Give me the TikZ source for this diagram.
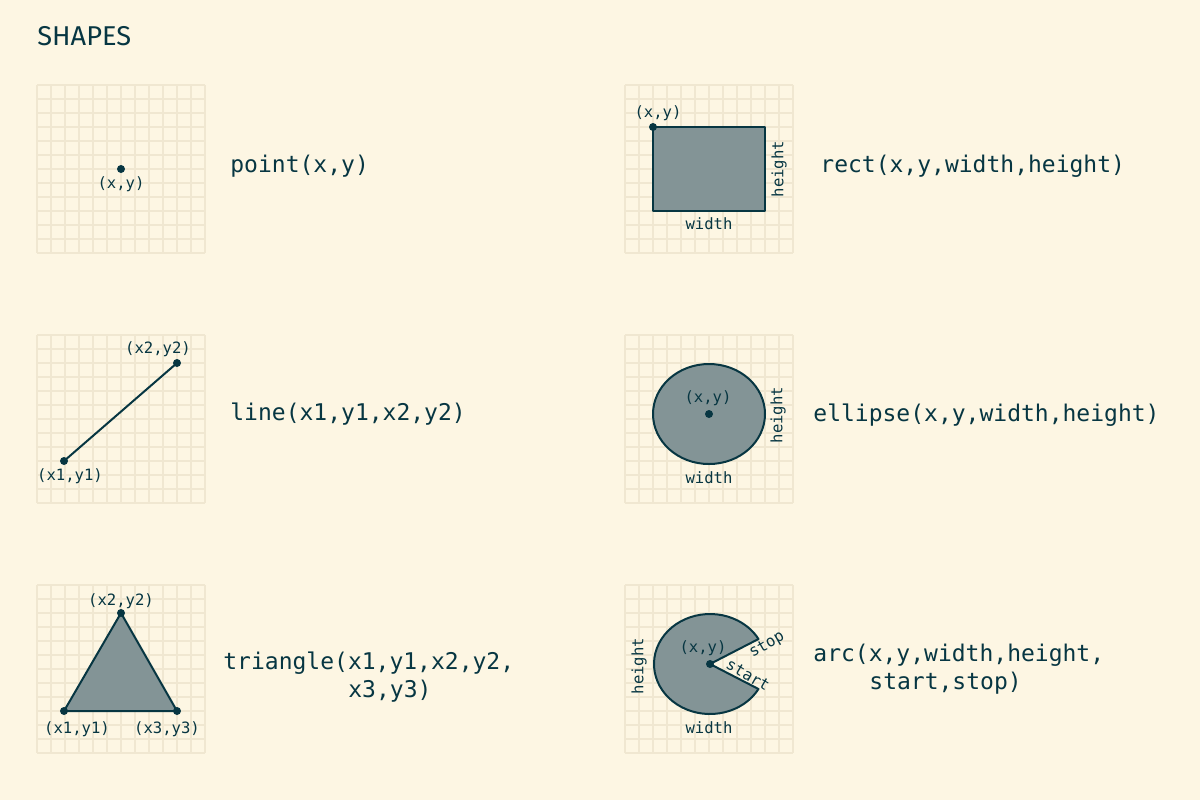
\documentclass[tikz,border=0pt]{standalone}
\usepackage{fontspec}
\setmonofont{DejaVu Sans Mono}
\newfontfamily\titlefont{Fira Sans}
\definecolor{bg}{HTML}{FDF6E3}
\definecolor{ink}{HTML}{073642}
\definecolor{shade}{HTML}{839496}
\definecolor{gridc}{HTML}{F0E7D1}
\tikzset{
  gridline/.style={draw=gridc, line width=1pt},
  shapeline/.style={draw=ink, line width=1pt, fill=shade, line join=round},
  plainline/.style={draw=ink, line width=1pt},
  dot/.style={circle, fill=ink, inner sep=0pt, minimum size=4pt},
  biglabel/.style={font=\ttfamily\fontsize{11.5}{14}\selectfont, text=ink, inner sep=0pt, anchor=base west},
  small/.style={font=\ttfamily\fontsize{7.8}{9}\selectfont, text=ink, inner sep=0pt},
}
\newcommand\gridbox[2]{%
  \foreach \i in {0,...,12} {
    \draw[gridline] ({#1+14*\i},#2) -- ({#1+14*\i},{#2+168});
    \draw[gridline] (#1,{#2+14*\i}) -- ({#1+168},{#2+14*\i});
  }%
}
\begin{document}
\begin{tikzpicture}[x=0.5pt, y=-0.5pt]
\useasboundingbox[fill=bg] (0,0) rectangle (1200,800);
\node[font=\titlefont\fontsize{13.6}{16}\selectfont, text=ink, inner sep=0pt, anchor=base west] (title) at (37,45) {SHAPES};

% grids
\gridbox{37}{85}
\gridbox{625}{85}
\gridbox{37}{335}
\gridbox{625}{335}
\gridbox{37}{585}
\gridbox{625}{585}

% point
\node[dot] (p) at (121,169) {};
\node[small] (plab) at (121,184) {(x,y)};
\node[biglabel] (ptext) at (230,172) {point(x,y)};

% rect
\draw[shapeline] (653,127) rectangle (765,211);
\node[dot] (r) at (653,127) {};
\node[small] (rlab) at (658,113) {(x,y)};
\node[small] (rw) at (709,224) {width};
\node[small, rotate=90] (rh) at (779,169) {height};
\node[biglabel] (rtext) at (820,172) {rect(x,y,width,height)};

% line
\node[dot] (l1) at (64,461) {};
\node[dot] (l2) at (177,363) {};
\draw[plainline] (l1.center) -- (l2.center);
\node[small] (l1lab) at (70,476) {(x1,y1)};
\node[small] (l2lab) at (158,349) {(x2,y2)};
\node[biglabel] (ltext) at (230,420) {line(x1,y1,x2,y2)};

% ellipse
\draw[shapeline] (709,414) ellipse[x radius=56, y radius=50];
\node[dot] (e) at (709,414) {};
\node[small] (elab) at (708,398) {(x,y)};
\node[small] (ew) at (709,478) {width};
\node[small, rotate=90] (eh) at (778,415) {height};
\node[biglabel] (etext) at (813,421) {ellipse(x,y,width,height)};

% triangle
\coordinate (t1) at (64,711);
\coordinate (t2) at (121,613);
\coordinate (t3) at (177,711);
\draw[shapeline] (t1) -- (t2) -- (t3) -- cycle;
\node[dot] (d1) at (t1) {};
\node[dot] (d2) at (t2) {};
\node[dot] (d3) at (t3) {};
\node[small] (t1lab) at (77,729) {(x1,y1)};
\node[small] (t2lab) at (121,601) {(x2,y2)};
\node[small] (t3lab) at (167,729) {(x3,y3)};
\node[biglabel] (ttext1) at (223,669) {triangle(x1,y1,x2,y2,};
\node[biglabel] (ttext2) at (348,697) {x3,y3)};

% arc
\coordinate (ac) at (710,664);
\draw[shapeline] (ac) -- ++(30:56 and 50) arc[start angle=30, end angle=330, x radius=56, y radius=50] -- cycle;
\node[dot] (a) at (ac) {};
\node[small] (alab) at (703,648) {(x,y)};
\node[small] (aw) at (709,728) {width};
\node[small, rotate=90] (ah) at (639,666) {height};
\node[small, rotate=30] (astop) at (767,645) {stop};
\node[small, rotate=-30] (astart) at (748,675) {start};
\node[biglabel] (atext1) at (813,661) {arc(x,y,width,height,};
\node[biglabel] (atext2) at (869,689) {start,stop)};
\end{tikzpicture}
\end{document}
